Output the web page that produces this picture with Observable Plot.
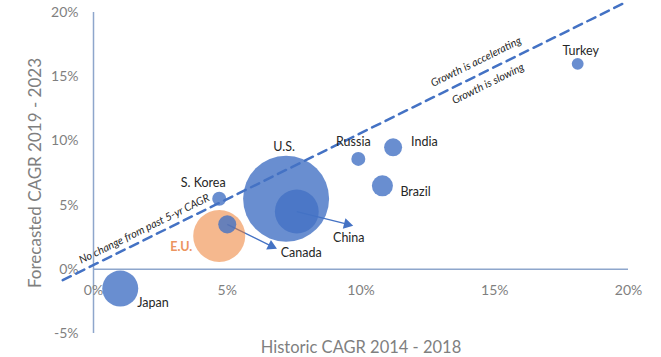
<!DOCTYPE html>
<html><head><meta charset="utf-8">
<script src="https://cdn.jsdelivr.net/npm/d3@7"></script>
<script src="https://cdn.jsdelivr.net/npm/@observablehq/plot@0.6"></script>
<style>
html,body{margin:0;padding:0;background:#fff}
#chart svg{display:block}
</style>
</head><body><div id="chart"></div>
<script>
// ---- data ----
const countries = ["Japan", "E.U.", "U.S.", "China", "Canada", "S. Korea", "Russia", "India", "Brazil", "Turkey"];
const historic  = [1.0, 4.7, 7.2, 7.6, 5.0, 4.7, 9.9, 11.2, 10.8, 18.1];   // CAGR 2014-2018 (%)
const forecast  = [-1.5, 2.6, 5.5, 4.5, 3.5, 5.5, 8.6, 9.5, 6.5, 16.0];    // CAGR 2019-2023 (%)
const marketSize = [17.5, 36.6, 100, 26, 4.4, 2.65, 2.65, 4.4, 6, 1.9];   // relative bubble size
const groups    = ["country", "bloc", "country", "country", "country", "country", "country", "country", "country", "country"];

const xTicks = [0, 5, 10, 15, 20];
const yTicks = [-5, 0, 5, 10, 15, 20];

// "No change from past 5-yr CAGR" reference line
const noChangeX = [-1.15, 19.9];
const noChangeY = [-0.85, 20.8];

// arrows (from a country's bubble to a point)
const arrowFrom = ["Canada", "China"];
const arrowToX  = [6.85, 9.7];
const arrowToY  = [1.6, 3.4];

// annotations
const noteText = ["Growth is accelerating", "Growth is slowing", "No change from past 5-yr CAGR"];
const noteX    = [14.3, 14.75, 1.9];
const noteY    = [16.15, 14.45, 3.15];

// ---- layout ----
const W = 661, H = 357, mL = 93, mR = 33, mT = 12, mB = 24;
const blue = "#4472C4";
const grey = "#7f7f7f";
const font = "Lato, 'Open Sans', sans-serif";

const bubbles = countries.map((c, i) => ({country: c, historic: historic[i], forecast: forecast[i], size: marketSize[i], group: groups[i]}));
const byName = Object.fromEntries(bubbles.map(d => [d.country, d]));
const noChange = noChangeX.map((x, i) => ({x, y: noChangeY[i]}));
const notes = noteText.map((t, i) => ({text: t, x: noteX[i], y: noteY[i]}));

const sx = Plot.scale({x: {domain: [0, 20], range: [mL, W - mR]}});
const sy = Plot.scale({y: {domain: [-5, 20], range: [H - mB, mT]}});

const arrows = arrowFrom.map((name, i) => {
  const s = byName[name];
  const p0 = [sx.apply(s.historic), sy.apply(s.forecast)];
  const p1 = [sx.apply(arrowToX[i]), sy.apply(arrowToY[i])];
  const len = Math.hypot(p1[0] - p0[0], p1[1] - p0[1]);
  const ux = (p1[0] - p0[0]) / len, uy = (p1[1] - p0[1]) / len;
  const c = [p1[0] - 6 * ux, p1[1] - 6 * uy];
  return {
    x1: s.historic, y1: s.forecast,
    hx: sx.invert(c[0]), hy: sy.invert(c[1]),
    angle: Math.atan2(ux, -uy) * 180 / Math.PI
  };
});

// label placement relative to each bubble (pixels)
const labelLayout = {
  "Japan":    {dx: 17, dy: 14, anchor: "start"},
  "E.U.":     {dx: -38, dy: 11, anchor: "middle", fill: "#EC9460", weight: "bold"},
  "U.S.":     {dx: -2, dy: -52, anchor: "middle"},
  "China":    {dx: 52, dy: 26, anchor: "middle"},
  "Canada":   {dx: 74, dy: 29, anchor: "middle"},
  "S. Korea": {dx: -16, dy: -16, anchor: "middle"},
  "Russia":   {dx: -5, dy: -17, anchor: "middle"},
  "India":    {dx: 18, dy: -5, anchor: "start"},
  "Brazil":   {dx: 18, dy: 6, anchor: "start"},
  "Turkey":   {dx: 3, dy: -13, anchor: "middle"}
};

const labelMarks = bubbles.map(d => {
  const L = labelLayout[d.country];
  return Plot.text([d], {
    x: "historic", y: "forecast", text: "country",
    dx: L.dx, dy: L.dy, textAnchor: L.anchor,
    fill: L.fill || "#262626", fontWeight: L.weight || "normal",
    fontSize: 12.5, fontFamily: font
  });
});

const chart = Plot.plot({
  width: W, height: H,
  marginLeft: mL, marginRight: mR, marginTop: mT, marginBottom: mB,
  x: {domain: [0, 20], axis: null},
  y: {domain: [-5, 20], axis: null},
  r: {type: "sqrt", domain: [0, 100], range: [0, 43]},
  color: {domain: ["country", "bloc"], range: [blue, "#ED7D31"]},
  style: {fontFamily: font, background: "#fff", color: grey, overflow: "visible"},
  marks: [
    Plot.ruleX([0], {y1: -5, y2: 20, stroke: "#8EA6CC", strokeWidth: 1.5}),
    Plot.ruleY([0], {x1: 0, x2: 20, stroke: "#8EA6CC", strokeWidth: 1.5}),
    Plot.axisY(yTicks, {tickSize: 0, tickPadding: 15, tickFormat: d => `${d}%`, fontSize: 14, fill: grey, label: null}),
    Plot.text(xTicks, {x: d => d, y: 0, text: d => `${d}%`, dy: 21, fontSize: 14, fill: grey}),
    Plot.link(arrows, {x1: "x1", y1: "y1", x2: "hx", y2: "hy", stroke: blue, strokeWidth: 1.3}),
    Plot.dot(bubbles, {x: "historic", y: "forecast", r: "size", fill: "group",
      fillOpacity: d => d.group === "bloc" ? 0.55 : 0.8}),
    Plot.dot(arrows, {x: "hx", y: "hy", r: 4, symbol: "triangle", rotate: "angle", fill: blue}),
    Plot.line(noChange, {x: "x", y: "y", stroke: blue, strokeWidth: 2.5, strokeDasharray: "9,6"}),
    Plot.text(notes, {x: "x", y: "y", text: "text", rotate: -26.3, fontStyle: "italic", fontSize: 10.8, fill: "#262626"}),
    ...labelMarks,
    Plot.text(["Forecasted CAGR 2019 - 2023"], {frameAnchor: "left", textAnchor: "middle", lineAnchor: "middle", dx: -58, rotate: -90, text: d => d, fontSize: 17, fill: grey}),
    Plot.text(["Historic CAGR 2014 - 2018"], {frameAnchor: "bottom", lineAnchor: "middle", dy: 14, text: d => d, fontSize: 16.5, fill: grey})
  ]
});
document.getElementById("chart").appendChild(chart);
</script>
</body></html>
